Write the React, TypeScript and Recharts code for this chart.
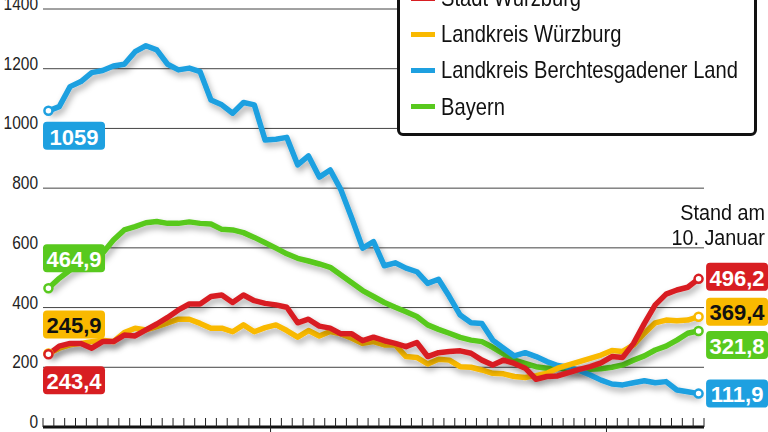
import React from 'react';
import { LineChart, Line, XAxis, YAxis, CartesianGrid, Legend } from 'recharts';

// 7-Tage-Inzidenz, one value per day (10. November .. 10. Januar)
const dayIndex = Array.from({ length: 61 }, (_, i) => i);

const stadtWuerzburg = [
  243.4, 271, 280, 280, 264, 286, 286, 308, 305, 325, 345, 367, 392, 412, 412, 437,
  442, 417, 442, 423, 414, 409, 401, 349, 361, 338, 331, 312, 312, 289, 301, 289,
  280, 269, 283, 236, 249, 253, 255, 247, 224, 208, 224, 213, 197, 160, 169, 171,
  182, 193, 202, 215, 236, 233, 280, 347, 409, 445, 459, 468, 496.2,
];

const landkreisWuerzburg = [
  245.9, 264, 275, 280, 286, 291, 286, 316, 331, 325, 336, 349, 361, 361, 347, 331,
  331, 319, 342, 319, 333, 342, 323, 301, 323, 305, 320, 312, 297, 280, 286, 275,
  275, 236, 233, 211, 227, 224, 202, 200, 191, 180, 178, 169, 166, 172, 180, 197,
  208, 219, 230, 241, 256, 253, 275, 314, 349, 358, 356, 358, 369.4,
];

const berchtesgadenerLand = [
  1059, 1073, 1140, 1157, 1187, 1194, 1209, 1215, 1257, 1277, 1263, 1215, 1196, 1202, 1190, 1095,
  1079, 1051, 1087, 1079, 961, 964, 970, 878, 908, 837, 861, 794, 699, 599, 621, 540,
  550, 532, 520, 481, 495, 437, 375, 349, 347, 291, 264, 238, 249, 236, 219, 206,
  200, 189, 174, 157, 144, 141, 148, 155, 148, 152, 124, 118, 111.9,
];

const bayern = [
  464.9, 498, 526, 543, 559, 582, 626, 660, 671, 684, 688, 682, 682, 687, 682, 680,
  662, 660, 651, 635, 617, 599, 580, 565, 556, 546, 535, 509, 483, 457, 437, 417,
  401, 386, 370, 342, 327, 314, 300, 291, 286, 267, 245, 224, 213, 202, 197, 200,
  190, 189, 193, 195, 200, 208, 224, 238, 258, 271, 291, 314, 321.8,
];

const yTicks = [0, 200, 400, 600, 800, 1000, 1200, 1400];
const dayTicks = [-0.5, ...dayIndex.map((d) => d + 0.5)];
const monthStarts = [20.5, 51.5];

const RED = '#d81e22';
const ORANGE = '#f9b900';
const BLUE = '#1ea0e0';
const GREEN = '#58c91e';

const FONT = '"Liberation Sans", Arial, sans-serif';

const series = [
  { key: 'stadt', name: 'Stadt Würzburg', values: stadtWuerzburg, color: RED, text: '#fff', leftDy: 26, rightDy: -2 },
  { key: 'landkreis', name: 'Landkreis Würzburg', values: landkreisWuerzburg, color: ORANGE, text: '#111', leftDy: -29, rightDy: -5 },
  { key: 'bgl', name: 'Landkreis Berchtesgadener Land', values: berchtesgadenerLand, color: BLUE, text: '#fff', leftDy: 25, rightDy: 0 },
  { key: 'bayern', name: 'Bayern', values: bayern, color: GREEN, text: '#fff', leftDy: -30, rightDy: 14 },
];

// drawing order: red on top
const drawOrder = ['bayern', 'bgl', 'landkreis', 'stadt'];

const data = dayIndex.map((d, i) => ({
  day: d,
  stadt: stadtWuerzburg[i],
  landkreis: landkreisWuerzburg[i],
  bgl: berchtesgadenerLand[i],
  bayern: bayern[i],
}));

const fmt = (v: number) => (Number.isInteger(v) ? String(v) : v.toFixed(1).replace('.', ','));

const makeDot = (s: (typeof series)[number]) => (props: any) => {
  const { cx, cy, index } = props;
  const last = index === dayIndex.length - 1;
  if (index !== 0 && !last) return <g key={`d-${s.key}-${index}`} />;
  const bx = last ? cx + 7.5 : cx - 5.4;
  const by = cy + (last ? s.rightDy : s.leftDy) - 14;
  return (
    <g key={`d-${s.key}-${index}`}>
      <circle cx={cx} cy={cy} r={4} fill="#fff" stroke={s.color} strokeWidth={2.5} />
      <rect x={bx} y={by} width={62} height={28} rx={4} fill={s.color} />
      <text
        x={bx + 31}
        y={by + 15}
        dy="0.35em"
        textAnchor="middle"
        fill={s.text}
        fontFamily={FONT}
        fontWeight="bold"
        fontSize={22}
      >
        {fmt(s.values[index])}
      </text>
    </g>
  );
};

const DayTick = (props: any) => {
  const { x, y, payload } = props;
  const major = monthStarts.includes(payload.value);
  return <line x1={x} x2={x} y1={y - 9} y2={major ? y + 8 : y} stroke="#222" strokeWidth={1} />;
};

// condensed look: Liberation Sans squeezed horizontally, sitting just above the gridline
const ValueTick = (props: any) => {
  const { x, y, payload } = props;
  return (
    <text
      transform={`translate(${x},${y - 5.5}) scale(0.86,1)`}
      textAnchor="end"
      dy="0.36em"
      fill="#222"
      fontFamily={FONT}
      fontSize={18}
    >
      {payload.value}
    </text>
  );
};

const LegendBox = () => (
  <div
    style={{
      boxSizing: 'border-box',
      width: 360,
      height: 159,
      border: '3px solid #111',
      borderRadius: 6,
      background: '#fff',
      paddingBottom: 8,
    }}
  >
    {series.map((s) => (
      <div key={s.key} style={{ height: 36.2, display: 'flex', alignItems: 'center' }}>
        <div style={{ width: 24, height: 5, background: s.color, marginLeft: 11, marginRight: 6, flexShrink: 0 }} />
        <span
          style={{
            fontFamily: FONT,
            fontSize: 24,
            color: '#111',
            whiteSpace: 'nowrap',
            display: 'inline-block',
            transform: 'scaleX(0.84)',
            transformOrigin: 'left center',
          }}
        >
          {s.name}
        </span>
      </div>
    ))}
  </div>
);

export default function App() {
  return (
    <div style={{ position: 'relative', width: 768, height: 432, overflow: 'hidden', background: '#fff' }}>
      <style>{'body{margin:0} .recharts-line-curve{filter:url(#lineShadow)}'}</style>
      <LineChart width={768} height={432} data={data} margin={{ top: 9, right: 64, bottom: 0, left: 0 }}>
        <defs>
          <filter id="lineShadow" x="-10%" y="-10%" width="130%" height="140%">
            <feDropShadow dx="2" dy="4" stdDeviation="3" floodColor="#000" floodOpacity="0.33" />
          </filter>
        </defs>
        <CartesianGrid vertical={false} stroke="#444" strokeWidth={1} />
        <XAxis
          dataKey="day"
          type="number"
          domain={[-0.5, 60.5]}
          ticks={dayTicks}
          interval={0}
          height={5}
          tickSize={0}
          tickMargin={0}
          tickLine={false}
          tick={<DayTick />}
          axisLine={{ stroke: '#111', strokeWidth: 3 }}
        />
        <YAxis
          type="number"
          domain={[0, 1400]}
          ticks={yTicks}
          interval={0}
          width={43}
          axisLine={false}
          tickLine={false}
          tickSize={0}
          tickMargin={5}
          tick={<ValueTick />}
        />
        <Legend
          layout="horizontal"
          verticalAlign="middle"
          align="center"
          content={<LegendBox />}
          wrapperStyle={{ position: 'absolute', left: 397, top: -23, width: 360, height: 159 }}
        />
        {drawOrder.map((k) => {
          const s = series.find((x) => x.key === k)!;
          return (
            <Line
              key={s.key}
              type="linear"
              dataKey={s.key}
              name={s.name}
              stroke={s.color}
              strokeWidth={5.5}
              strokeLinejoin="round"
              dot={makeDot(s)}
              activeDot={false}
              isAnimationActive={false}
            />
          );
        })}
      </LineChart>
      <div
        style={{
          position: 'absolute',
          right: 3,
          top: 200,
          textAlign: 'right',
          fontFamily: FONT,
          fontSize: 22,
          lineHeight: '25px',
          color: '#111',
          transform: 'scaleX(0.9)',
          transformOrigin: 'right center',
        }}
      >
        Stand am
        <br />
        10. Januar
      </div>
    </div>
  );
}
